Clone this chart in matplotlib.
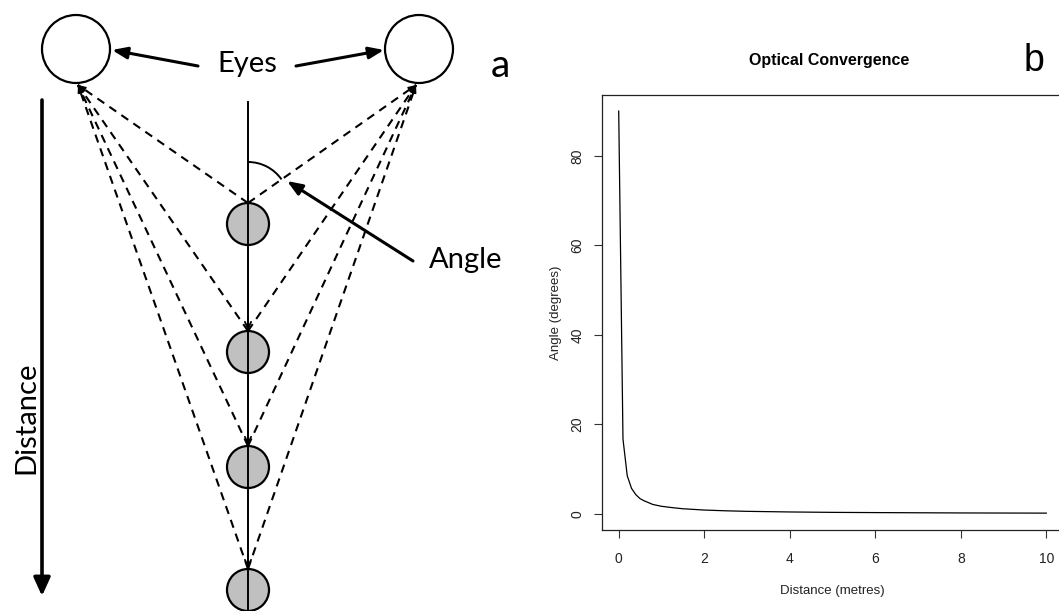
import matplotlib
matplotlib.use("Agg")
import numpy as np
import matplotlib.pyplot as plt
from matplotlib.patches import Circle, Arc

# convergence curve, angle to one eye vs distance of the fixated object
distance_m = [0, 0.1, 0.2, 0.3, 0.4, 0.5, 0.6, 0.8, 1.0, 1.25, 1.5, 2.0,
              2.5, 3.0, 4.0, 5.0, 6.0, 7.0, 8.0, 9.0, 10.0]
angle_deg = [90, 16.7, 8.5, 5.7, 4.3, 3.4, 2.9, 2.1, 1.7, 1.4, 1.15, 0.86,
             0.69, 0.57, 0.43, 0.34, 0.29, 0.25, 0.21, 0.19, 0.17]
x_ticks = [0, 2, 4, 6, 8, 10]
y_ticks = [0, 20, 40, 60, 80]

# schematic on the left, in pixel units
W, H = 1059, 611
eye_xs = [76, 419]
eye_y, eye_r = 49, 34
obj_x, obj_r = 248, 21
obj_ys = [224, 352, 467, 590]

diag_font = "Lato"
r_font = "Liberation Sans"

fig = plt.figure(figsize=(W / 100, H / 100), dpi=100)
ax0 = fig.add_axes([0, 0, 1, 1])
ax0.set_xlim(0, W)
ax0.set_ylim(H, 0)
ax0.axis("off")

for ex in eye_xs:
    ax0.add_patch(Circle((ex, eye_y), eye_r, fc="white", ec="black", lw=1.6, zorder=3))

# central line through the objects
ax0.plot([obj_x, obj_x], [102, H], color="black", lw=1.4, zorder=4)

for i, oy in enumerate(obj_ys):
    top = oy - obj_r
    for ex in eye_xs:
        bx = ex + (2 if ex < obj_x else -3)
        by = eye_y + eye_r + 2
        ax0.plot([obj_x, bx], [top, by], color="black", lw=1.5,
                 dashes=(4, 3.0), zorder=2)
        d = np.array([bx - obj_x, by - top], float)
        d /= np.hypot(*d)
        ax0.annotate("", xy=(bx, by), xytext=(bx - 7 * d[0], by - 7 * d[1]),
                     arrowprops=dict(arrowstyle="-|>,head_length=0.45,head_width=0.18",
                                     color="black", lw=1.0, shrinkA=0, shrinkB=0),
                     zorder=3)
    if i > 0:
        ax0.annotate("", xy=(obj_x, top), xytext=(obj_x, top - 14),
                     arrowprops=dict(arrowstyle="->,head_length=0.5,head_width=0.22",
                                     color="black", lw=1.3, shrinkA=0, shrinkB=0),
                     zorder=4)
    ax0.add_patch(Circle((obj_x, oy), obj_r, fc="#c0c0c0", ec="black", lw=1.6, zorder=3))

# angle arc between the centre line and the line to the right eye
vx, vy = obj_x, obj_ys[0] - obj_r
ang = np.degrees(np.arctan2(eye_y + eye_r + 2 - vy, eye_xs[1] - 3 - vx))
ax0.add_patch(Arc((vx, vy), 82, 82, theta1=-90, theta2=ang, color="black", lw=1.4))

arrow_kw = dict(arrowstyle="-|>,head_length=0.9,head_width=0.35", color="black",
                lw=2.2, shrinkA=0, shrinkB=0)
ax0.annotate("", xy=(112, 50), xytext=(198, 66), arrowprops=arrow_kw)
ax0.annotate("", xy=(384, 50), xytext=(296, 66), arrowprops=arrow_kw)
ax0.annotate("", xy=(287, 181), xytext=(413, 261), arrowprops=arrow_kw)

# distance arrow
ax0.annotate("", xy=(42, 596), xytext=(42, 100),
             arrowprops=dict(arrowstyle="-|>,head_length=1.1,head_width=0.5",
                             color="black", lw=2.6, shrinkA=0, shrinkB=0))

ax0.text(247, 64, "Eyes", fontsize=21, family=diag_font, ha="center", va="center")
ax0.text(466, 260, "Angle", fontsize=21, family=diag_font, ha="center", va="center")
ax0.text(26, 418, "Distance", fontsize=21, family=diag_font, ha="center",
         va="center", rotation=90)
ax0.text(500, 66, "a", fontsize=28, family=diag_font, ha="center", va="center")

# R style plot on the right
ax1 = fig.add_axes([601.6 / W, 81 / H, 461.8 / W, 435 / H])
ax1.plot(distance_m, angle_deg, color="black", lw=0.9)
ax1.set_xlim(-0.4, 10.4)
ax1.set_ylim(-3.6, 93.6)
ax1.set_xticks(x_ticks)
ax1.set_yticks(y_ticks)
for s in ax1.spines.values():
    s.set_linewidth(0.9)
    s.set_color("#222222")
ax1.tick_params(direction="out", length=5.5, width=0.8, color="#333333",
                labelsize=10, labelcolor="#222222")
ax1.tick_params(axis="x", pad=10)
ax1.tick_params(axis="y", pad=7, labelrotation=90)
for lab in ax1.get_xticklabels() + ax1.get_yticklabels():
    lab.set_family(r_font)
for lab in ax1.get_yticklabels():
    lab.set_va("center")

fig.text(556 / W, 1 - 313 / H, "Angle (degrees)", rotation=90, ha="center",
         va="center", fontsize=9.5, family=r_font, color="#222222")
fig.text(832 / W, 1 - 591 / H, "Distance (metres)", ha="center", va="center",
         fontsize=9.5, family=r_font, color="#222222")
fig.text(829 / W, 1 - 61 / H, "Optical Convergence", ha="center", va="center",
         fontsize=11.5, fontweight="bold", family=r_font)
fig.text(1034 / W, 1 - 61 / H, "b", ha="center", va="center", fontsize=27,
         family=r_font)

fig.savefig("out.png", dpi=100)
